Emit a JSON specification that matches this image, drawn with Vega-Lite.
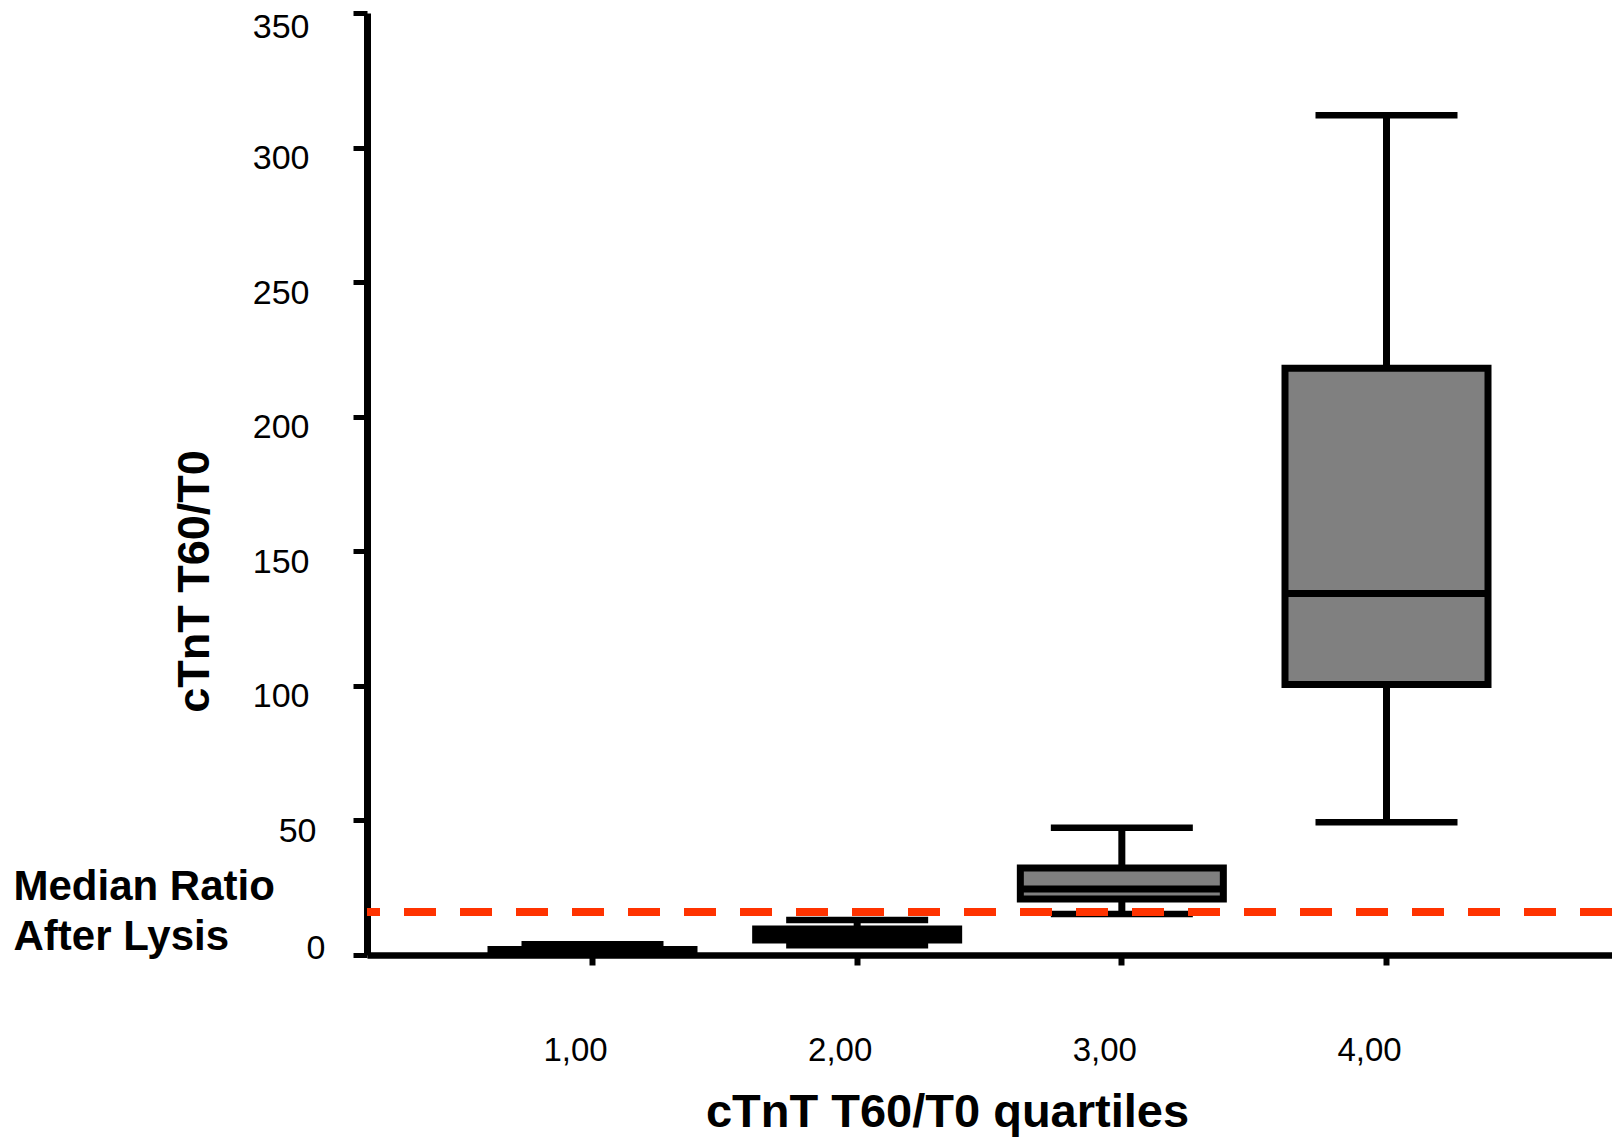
{
  "$schema": "https://vega.github.io/schema/vega-lite/v6.json",
  "width": 1245,
  "height": 942,
  "autosize": {"type": "none"},
  "padding": {"left": 367, "top": 13, "right": 0, "bottom": 185},
  "background": "white",
  "config": {"view": {"stroke": null}, "font": "Liberation Sans"},
  "layer": [
    {
      "data": {
        "values": [
          {"q": "1,00", "min": 0.3, "q1": 0.6, "median": 1.1, "q3": 2.0, "max": 4.0},
          {"q": "2,00", "min": 3.6, "q1": 5.6, "median": 7.5, "q3": 9.7, "max": 13.0},
          {"q": "3,00", "min": 15.2, "q1": 20.8, "median": 24.5, "q3": 32.3, "max": 47.3},
          {"q": "4,00", "min": 49.3, "q1": 100.5, "median": 134.3, "q3": 218.0, "max": 312.0}
        ]
      },
      "encoding": {
        "x": {
          "field": "q",
          "type": "nominal",
          "scale": {"type": "band", "paddingInner": 0, "paddingOuter": 0.352},
          "axis": {
            "title": "cTnT T60/T0 quartiles",
            "titleFont": "Liberation Sans",
            "titleFontSize": 47,
            "titleFontWeight": "bold",
            "titleColor": "black",
            "titleX": 580,
            "titleY": 171,
            "titleAlign": "center",
            "titleBaseline": "alphabetic",
            "labelAngle": 0,
            "labelFontSize": 33,
            "labelColor": "black",
            "labelOffset": -17,
            "labelPadding": 69,
            "tickSize": 10,
            "tickWidth": 6,
            "tickColor": "black",
            "domainColor": "black",
            "domainWidth": 6.5,
            "grid": false
          }
        }
      },
      "layer": [
        {
          "mark": {"type": "rule", "color": "black", "strokeWidth": 7},
          "encoding": {
            "y": {
              "field": "min",
              "type": "quantitative",
              "scale": {"domain": [0, 350], "nice": false},
              "title": "cTnT T60/T0",
              "axis": {
                "values": [0, 50, 100, 150, 200, 250, 300, 350],
                "grid": false,
                "domainColor": "black",
                "domainWidth": 7,
                "tickColor": "black",
                "tickWidth": 5,
                "tickSize": 14,
                "labelFontSize": 34,
                "labelColor": "black",
                "labelPadding": {"condition": [{"test": "datum.value == 0", "value": 28}, {"test": "datum.value == 50", "value": 37}], "value": 44},
                "labelAlign": "right",
                "labelBaseline": "middle",
                "labelOffset": {"condition": [{"test": "datum.value == 0", "value": -7}, {"test": "datum.value == 350", "value": 14}], "value": 11},
                "labelFlush": false,
                "labelOverlap": false,
                "titleFontSize": 45,
                "titleFontWeight": "bold",
                "titleColor": "black",
                "titleX": -159,
                "titleY": 568,
                "titleAlign": "center",
                "titleBaseline": "alphabetic",
                "titleAngle": 270
              }
            },
            "y2": {"field": "max"}
          }
        },
        {
          "mark": {"type": "bar", "width": 203, "fill": "#808080", "stroke": "black", "strokeWidth": 7},
          "encoding": {
            "y": {"field": "q1", "type": "quantitative", "title": "cTnT T60/T0"},
            "y2": {"field": "q3"}
          }
        },
        {
          "mark": {"type": "tick", "color": "black", "size": 203, "thickness": 7, "opacity": 1},
          "encoding": {
            "y": {"field": "median", "type": "quantitative", "title": "cTnT T60/T0"}
          }
        },
        {
          "mark": {"type": "tick", "color": "black", "size": 142, "thickness": 6.5, "opacity": 1},
          "encoding": {
            "y": {"field": "min", "type": "quantitative", "title": "cTnT T60/T0"}
          }
        },
        {
          "mark": {"type": "tick", "color": "black", "size": 142, "thickness": 6.5, "opacity": 1},
          "encoding": {
            "y": {"field": "max", "type": "quantitative", "title": "cTnT T60/T0"}
          }
        }
      ]
    },
    {
      "data": {"values": [{"ref": 16, "label": "Median Ratio After Lysis"}]},
      "mark": {"type": "rule", "color": "#FF3300", "strokeWidth": 8, "strokeDash": [32, 24]},
      "encoding": {
        "y": {
          "field": "ref",
          "type": "quantitative",
          "scale": {"domain": [0, 350], "nice": false},
          "axis": {
            "orient": "left",
            "values": [16],
            "labelExpr": "['Median Ratio', 'After Lysis']",
            "ticks": false,
            "tickSize": 0,
            "domain": false,
            "grid": false,
            "labelAlign": "left",
            "labelBaseline": "middle",
            "labelFontSize": 42,
            "labelFontWeight": "bold",
            "labelColor": "black",
            "labelLineHeight": 50,
            "labelLimit": 0,
            "labelPadding": 354,
            "labelOffset": -25,
            "labelOverlap": false,
            "labelBound": false,
            "labelFlush": false,
            "title": null
          }
        }
      }
    }
  ],
  "resolve": {"scale": {"y": "independent"}, "axis": {"y": "independent"}}
}
